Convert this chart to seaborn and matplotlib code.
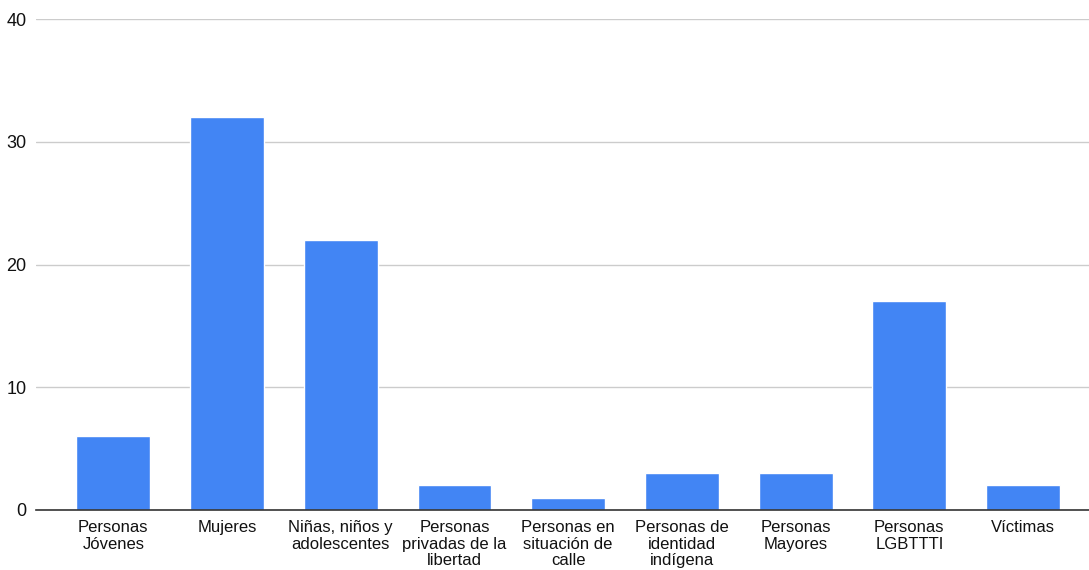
import matplotlib
matplotlib.use("Agg")
import matplotlib.pyplot as plt
import seaborn as sns
import pandas as pd

categories = ["Personas\nJóvenes", "Mujeres", "Niñas, niños y\nadolescentes",
              "Personas\nprivadas de la\nlibertad", "Personas en\nsituación de\ncalle",
              "Personas de\nidentidad\nindígena", "Personas\nMayores",
              "Personas\nLGBTTTI", "Víctimas"]
values = [6, 32, 22, 2, 1, 3, 3, 17, 2]
yticks = [0, 10, 20, 30, 40]

sns.set_theme(style="white")
plt.rcParams['font.family'] = ['Liberation Sans', 'DejaVu Sans']

df = pd.DataFrame({"cat": categories, "val": values})

fig = plt.figure(figsize=(10.89, 5.70), dpi=100)
ax = fig.add_axes([36/1089, 1 - 510/570, 1 - 36/1089, (510 - 19)/570])
sns.barplot(data=df, x="cat", y="val", color="#4285F4", saturation=1,
            width=0.65, ax=ax, zorder=3)

ax.set_xlim(-0.68, 8.58)
ax.set_ylim(0, 40)
ax.set_yticks(yticks)
ax.set_yticklabels([str(t) for t in yticks], fontsize=13, color="#111111")
ax.yaxis.grid(True, color="#cccccc", linewidth=1, zorder=0)
ax.set_axisbelow(True)
for s in ["top", "right", "left"]:
    ax.spines[s].set_visible(False)
ax.spines["bottom"].set_color("#333333")
ax.spines["bottom"].set_linewidth(1.2)
ax.spines["bottom"].set_zorder(4)
ax.tick_params(axis="both", length=0)
ax.tick_params(axis="y", pad=7)
ax.tick_params(axis="x", pad=7)
for lab in ax.get_xticklabels():
    lab.set_fontsize(12)
    lab.set_color("#111111")
    lab.set_linespacing(1.15)
ax.set_xlabel("")
ax.set_ylabel("")

fig.savefig("out.png", dpi=100)
